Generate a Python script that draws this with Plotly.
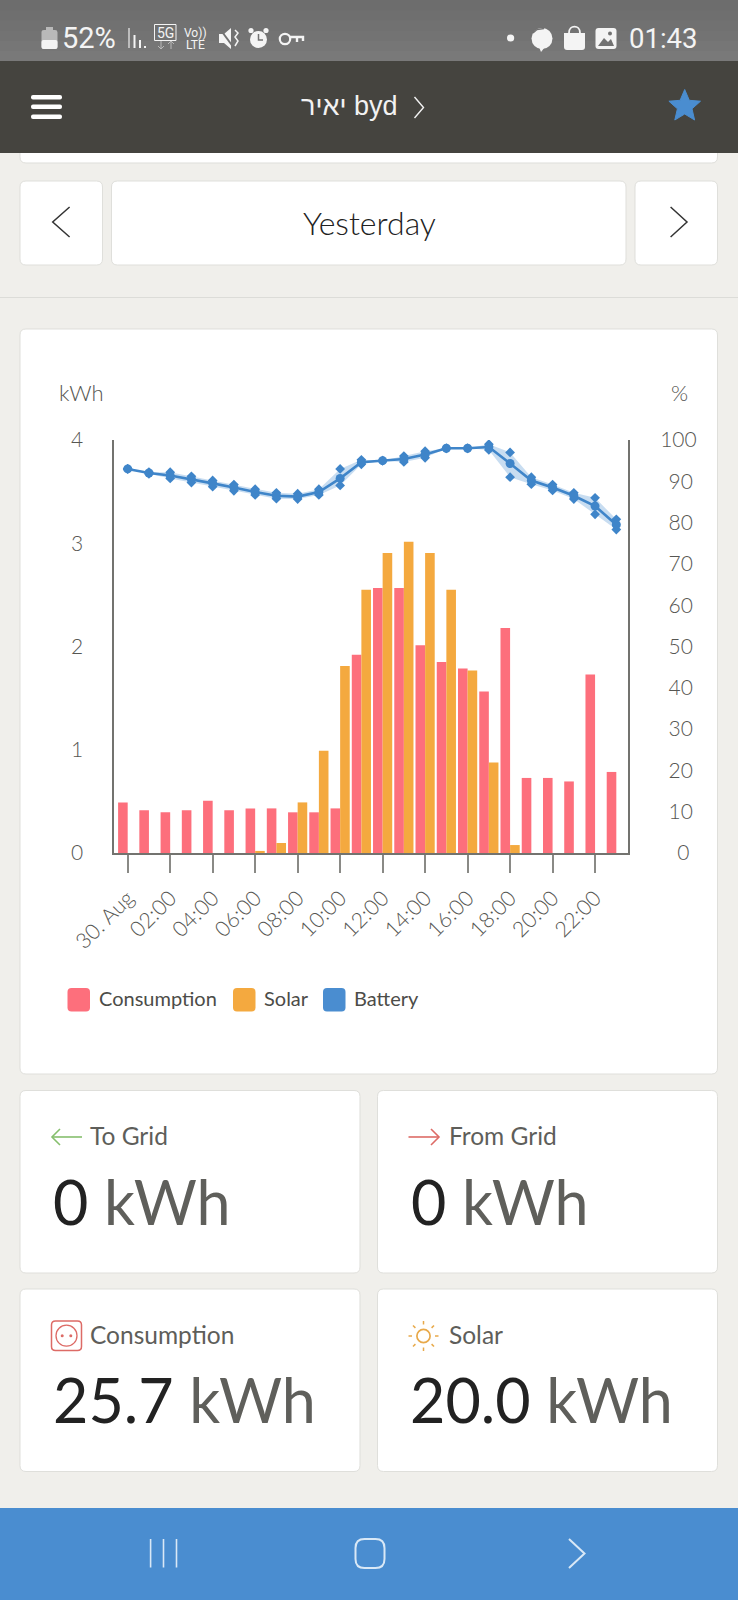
import plotly.graph_objects as go

W, H = 738, 1600

# ---------- data ----------
hours = list(range(24))
consumption = [0.49, 0.413, 0.394, 0.413, 0.506, 0.413, 0.432, 0.432, 0.394, 0.394, 0.432, 1.92,
               2.567, 2.567, 2.013, 1.85, 1.787, 1.565, 2.18, 0.727, 0.727, 0.693, 1.73, 0.785]
solar = [0, 0, 0, 0, 0, 0, 0.02, 0.097, 0.49, 0.99, 1.81, 2.55,
         2.905, 3.014, 2.905, 2.55, 1.768, 0.876, 0.077, 0, 0, 0, 0, 0]
battery = [93.0, 92.0, 91.4, 90.5, 89.5, 88.5, 87.4, 86.5, 86.3, 87.4, 90.7, 94.6,
           95.0, 95.4, 96.5, 98.0, 98.0, 98.3, 94.3, 90.2, 88.5, 86.5, 84.0, 79.5]
battery_min = [93.0, 91.8, 90.7, 89.7, 88.7, 87.7, 86.7, 85.8, 85.7, 86.7, 89.0, 94.1,
               95.0, 94.7, 95.7, 98.0, 98.0, 97.6, 91.0, 89.3, 87.8, 85.7, 82.0, 78.3]
battery_max = [93.0, 92.2, 92.2, 91.2, 90.2, 89.2, 88.1, 87.2, 87.0, 88.1, 93.0, 95.2,
               95.0, 96.1, 97.3, 98.0, 98.0, 99.0, 97.0, 91.0, 89.2, 87.2, 86.0, 80.8]
x_tick_vals = [0, 2, 4, 6, 8, 10, 12, 14, 16, 18, 20, 22]
x_tick_text = ["30. Aug", "02:00", "04:00", "06:00", "08:00", "10:00", "12:00", "14:00",
               "16:00", "18:00", "20:00", "22:00"]
kwh_ticks = [0, 1, 2, 3, 4]
pct_ticks = [0, 10, 20, 30, 40, 50, 60, 70, 80, 90, 100]

# ---------- colours ----------
PAGE = "#f0efeb"
CARD = "#ffffff"
EDGE = "#dfdfdb"
HEAD = "#45443f"
BLUE = "#4a8dd0"
LINE = "#3f85c9"
PINK = "#fd6f7c"
ORANGE = "#f4a93f"
AXIS = "#73736f"
TXT = "#565652"
FONT = "Lato"

shapes, notes = [], []


def X(p):
    return p / W


def Y(p):
    return 1 - p / H


def rect(x0, y0, x1, y1, fill, line=None, lw=1):
    shapes.append(dict(type="rect", xref="paper", yref="paper", x0=X(x0), x1=X(x1), y0=Y(y0), y1=Y(y1),
                       fillcolor=fill, line=dict(color=line or "rgba(0,0,0,0)", width=lw if line else 0),
                       layer="below"))


def path(cmds, fill="rgba(0,0,0,0)", line=None, lw=1.5):
    out = []
    for c in cmds:
        if c == "Z":
            out.append("Z")
        else:
            out.append(c[0] + " ".join(f"{X(c[i]):.5f},{Y(c[i + 1]):.5f}" for i in range(1, len(c), 2)))
    shapes.append(dict(type="path", xref="paper", yref="paper", path=" ".join(out), fillcolor=fill,
                       line=dict(color=line or "rgba(0,0,0,0)", width=lw if line else 0), layer="below"))


def rrect(x0, y0, x1, y1, r, fill, line=None, lw=1):
    path([("M", x0 + r, y0), ("L", x1 - r, y0), ("Q", x1, y0, x1, y0 + r), ("L", x1, y1 - r),
          ("Q", x1, y1, x1 - r, y1), ("L", x0 + r, y1), ("Q", x0, y1, x0, y1 - r), ("L", x0, y0 + r),
          ("Q", x0, y0, x0 + r, y0), "Z"], fill, line, lw)


def poly(pts, line, lw=1.5, fill="rgba(0,0,0,0)", close=False):
    cmds = [("M", *pts[0])] + [("L", *p) for p in pts[1:]]
    if close:
        cmds.append("Z")
    path(cmds, fill, line, lw)


def circle(cx, cy, r, fill="rgba(0,0,0,0)", line=None, lw=1.5):
    shapes.append(dict(type="circle", xref="paper", yref="paper", x0=X(cx - r), x1=X(cx + r),
                       y0=Y(cy + r), y1=Y(cy - r), fillcolor=fill,
                       line=dict(color=line or "rgba(0,0,0,0)", width=lw if line else 0), layer="below"))


def text(x, y, s, size, color=TXT, anchor="left", font=FONT, weight=400):
    notes.append(dict(xref="paper", yref="paper", x=X(x), y=Y(y), text=s, showarrow=False, xanchor=anchor,
                      yanchor="middle", borderpad=0, font=dict(family=font, size=size, color=color, weight=weight)))


# ---------- page chrome ----------
for i, c in enumerate(["#6d6d6d", "#6f6f6f", "#717171", "#737373", "#767676", "#797979"]):
    rect(0, i * 61 / 6, W, 62, c)
rrect(20, 130, 717.5, 163, 6, CARD, EDGE)
rect(0, 61, W, 153, HEAD)

# status bar
WHITE = "#f4f4f4"
rrect(41.5, 30, 57.5, 49, 2.5, "#b9b9b9")
rect(46, 27, 53, 31, "#b9b9b9")
rrect(41.5, 40, 57.5, 49, 2, WHITE)
text(61, 38, "52%", 29, WHITE, font="Roboto")
for bx, top in zip([128, 133.5, 139, 144], [28, 35, 40, 46]):
    rect(bx, top, bx + 2, 48, "#bdbdbd" if bx == 128 else WHITE)
shapes.append(dict(type="rect", xref="paper", yref="paper", x0=X(154.5), x1=X(176), y0=Y(40.5), y1=Y(24.5),
                   line=dict(color=WHITE, width=1), fillcolor="rgba(0,0,0,0)", layer="below"))
text(165.2, 32.8, "5G", 14, WHITE, "center", "Roboto")
poly([(161, 41), (161, 49)], "#b9b9b9", 1)
poly([(171, 41), (171, 49)], "#b9b9b9", 1)
poly([(158, 46), (161, 49), (164, 46)], "#b9b9b9", 1)
poly([(168, 44), (171, 41), (174, 44)], "#b9b9b9", 1)
text(195.5, 33, "Vo))", 12, WHITE, "center", "Roboto")
text(195.5, 44.5, "LTE", 12, WHITE, "center", "Roboto")
# mute
path([("M", 219, 34), ("L", 224, 34), ("L", 231, 28), ("L", 231, 49), ("L", 224, 43), ("L", 219, 43), "Z"], WHITE)
poly([(220, 29), (234, 48)], "#727272", 2)
poly([(235, 30), (238, 33), (235, 37), (238, 41), (235, 46)], WHITE, 1.5)
# alarm
circle(258.5, 39.5, 8.5, WHITE)
poly([(258.5, 34), (258.5, 40), (263, 40)], "#727272", 1.5)
circle(251, 30.5, 2.6, WHITE)
circle(266, 30.5, 2.6, WHITE)
# key
circle(285, 39, 5.2, line=WHITE, lw=2.2)
poly([(290, 37), (303, 37), (303, 41)], WHITE, 2.4)
poly([(297, 37), (297, 42)], WHITE, 2.4)
# right status
circle(510.6, 38, 3.6, WHITE)
circle(542, 38.5, 10.5, WHITE)
path([("M", 539, 47), ("L", 545, 47), ("L", 541, 52), "Z"], WHITE)
poly([(533, 33), (537, 29.5), (544, 28.5)], "#727272", 1.3)
path([("M", 564, 33), ("L", 585, 33), ("L", 585, 47), ("Q", 585, 50, 582, 50), ("L", 567, 50),
      ("Q", 564, 50, 564, 47), "Z"], WHITE)
path([("M", 569, 33), ("C", 569, 24.5, 580, 24.5, 580, 33)], line=WHITE, lw=1.8)
rrect(595.5, 28, 616.5, 49, 3, WHITE)
path([("M", 598, 46), ("L", 604, 38), ("L", 608, 42), ("L", 611, 39), ("L", 614, 46), "Z"], "#727272")
circle(610, 33.5, 2, "#727272")
text(628, 38, "01:43", 27.5, WHITE, font="Roboto")

# header
for by in (97.3, 106.7, 116.7):
    rrect(31, by - 2.2, 62, by + 2.2, 2, "#ffffff")
text(349, 106, "יאיר byd", 27, "#f2f2f2", "center", "Liberation Sans")
poly([(414.5, 97), (423.5, 107.5), (414.5, 118)], "#f2f2f2", 1.4)
star = [(684.7, 89.5), (689.3, 100.3), (700.5, 101.2), (692, 108.8), (694.6, 120), (684.7, 114), (674.8, 120),
        (677.4, 108.8), (668.9, 101.2), (680.1, 100.3)]
poly(star, BLUE, 1, BLUE, True)

# buttons
rrect(20, 181, 102.5, 265, 6, CARD, EDGE)
rrect(111.5, 181, 626, 265, 6, CARD, EDGE)
rrect(635, 181, 717.5, 265, 6, CARD, EDGE)
poly([(69.6, 207), (52.7, 222), (69.6, 237)], "#333333", 1.5)
poly([(670.6, 207), (687, 222), (670.6, 237)], "#333333", 1.5)
text(369, 222, "Yesterday", 32, "#222222", "center", weight=300)
rect(0, 297, W, 298, "#dcdcd8")

# chart card
rrect(20, 329, 717.5, 1074, 6, CARD, EDGE)
text(57.5, 392, "kWh", 22, weight=300)
text(679.5, 392, "%", 22, anchor="center", weight=300)

# manual legend
for lx, col, label in [(67.5, PINK, "Consumption"), (233, ORANGE, "Solar"), (323, BLUE, "Battery")]:
    rrect(lx, 988, lx + 22.5, 1011.5, 4, col)
    text(lx + 30, 998, label, 20, "#4c4c48")

# stat cards
for x0, x1 in ((20, 360), (377.5, 717.5)):
    for y0, y1 in ((1090.5, 1273), (1289, 1471.5)):
        rrect(x0, y0, x1, y1, 6, CARD, EDGE)

GREEN = "#86bf6d"
RED = "#dd6b66"
SUN = "#e8a94a"
poly([(82, 1137), (52, 1137)], GREEN, 1.6)
poly([(60, 1129), (52, 1137), (60, 1145)], GREEN, 1.6)
poly([(408.5, 1137), (439, 1137)], RED, 1.6)
poly([(431, 1129), (439, 1137), (431, 1145)], RED, 1.6)
rrect(51.5, 1321, 81.5, 1350.5, 4, CARD, RED, 1.5)
circle(66.5, 1335.7, 10.5, line=RED, lw=1.3)
circle(62.2, 1335.7, 1.5, RED)
circle(70.8, 1335.7, 1.5, RED)
circle(423.5, 1336, 6.6, line=SUN, lw=1.7)
for x1_, y1_, x2_, y2_ in [(423.5, 1321, 423.5, 1324.5), (423.5, 1347.5, 423.5, 1351), (408.5, 1336, 412, 1336),
                           (435, 1336, 438.5, 1336), (413, 1325.5, 415.4, 1327.9), (431.6, 1344.1, 434, 1346.5),
                           (413, 1346.5, 415.4, 1344.1), (431.6, 1327.9, 434, 1325.5)]:
    poly([(x1_, y1_), (x2_, y2_)], SUN, 1.5)

LABEL = "#5e5e5a"
text(89, 1135.5, "To Grid", 24.5, LABEL)
text(447.5, 1135.5, "From Grid", 24.5, LABEL)
text(89, 1334.5, "Consumption", 24.5, LABEL)
text(447.5, 1334.5, "Solar", 24.5, LABEL)


def value(x, y, num):
    text(x, y, f'<span style="color:#222222">{num}</span> <span style="color:#5f5f5b">kWh</span>', 61)


value(52, 1201, "0")
value(410, 1201, "0")
value(52, 1399, "25.7")
value(409, 1399, "20.0")

# nav bar
rect(0, 1508, W, H, BLUE)
NAV = "#d9e8f6"
for nx in (150.6, 163.5, 176.5):
    poly([(nx, 1539), (nx, 1567.5)], NAV, 1.6)
rrect(355.5, 1539, 384.5, 1568, 9, "rgba(0,0,0,0)", NAV, 2)
poly([(569, 1539), (584.5, 1553.5), (569, 1568)], NAV, 2)

# ---------- chart ----------
fig = go.Figure()
fig.add_bar(x=hours, y=consumption, name="Consumption", marker=dict(color=PINK, line_width=0))
fig.add_bar(x=hours, y=solar, name="Solar", marker=dict(color=ORANGE, line_width=0))
fig.add_scatter(x=hours, y=battery_min, yaxis="y2", mode="lines+markers", name="Battery min",
                marker=dict(symbol="diamond", size=7.5, color=LINE), line=dict(width=0, color="rgba(0,0,0,0)"))
fig.add_scatter(x=hours, y=battery_max, yaxis="y2", mode="lines+markers", name="Battery max", fill="tonexty",
                fillcolor="rgba(74,141,208,0.30)", marker=dict(symbol="diamond", size=7.5, color=LINE),
                line=dict(width=0, color="rgba(0,0,0,0)"))
fig.add_scatter(x=hours, y=battery, yaxis="y2", mode="lines+markers", name="Battery",
                line=dict(color=LINE, width=2.6), marker=dict(symbol="circle", size=9, color=LINE))


def pad(v):
    s = str(v)
    return {1: "\u00a0\u00a0\u00a0", 2: "\u00a0\u2009", 3: ""}[len(s)] + s


TICKFONT = dict(family=FONT, size=21, color=TXT, weight=300)

fig.update_layout(
    width=W, height=H, autosize=False, margin=dict(l=0, r=0, t=0, b=0, pad=0, autoexpand=False),
    paper_bgcolor=PAGE, plot_bgcolor="rgba(0,0,0,0)", showlegend=False,
    barmode="group", bargap=0.096, bargroupgap=0,
    font=dict(family=FONT, size=21, color=TXT),
    xaxis=dict(domain=[X(113.5), X(628)], range=[-0.668, 23.55], tickmode="array", tickvals=x_tick_vals,
               ticktext=x_tick_text, tickangle=-45, ticks="outside", ticklen=18, tickwidth=2, tickcolor="#8a8a86",
               showline=True, linecolor=AXIS, linewidth=2, showgrid=False, zeroline=False,
               tickfont=dict(family=FONT, size=21.5, color=TXT, weight=300), ticklabelstandoff=4),
    yaxis=dict(domain=[Y(853), Y(440)], range=[0, 4], tickmode="array", tickvals=kwh_ticks, ticks="",
               showline=True, linecolor=AXIS, linewidth=2, showgrid=False, zeroline=False,
               tickfont=TICKFONT, ticklabelstandoff=24),
    yaxis2=dict(domain=[Y(853), Y(440)], range=[0, 100], overlaying="y", side="right", anchor="x",
                tickmode="array", tickvals=pct_ticks, ticktext=[pad(v) for v in pct_ticks], ticks="",
                showline=True, linecolor=AXIS, linewidth=2, showgrid=False, zeroline=False,
                tickfont=TICKFONT, ticklabelstandoff=26),
    shapes=shapes, annotations=notes,
)

fig.write_html("out.html", config=dict(displayModeBar=False),
               post_script="document.body.style.margin='0';document.documentElement.style.overflow='hidden';")
